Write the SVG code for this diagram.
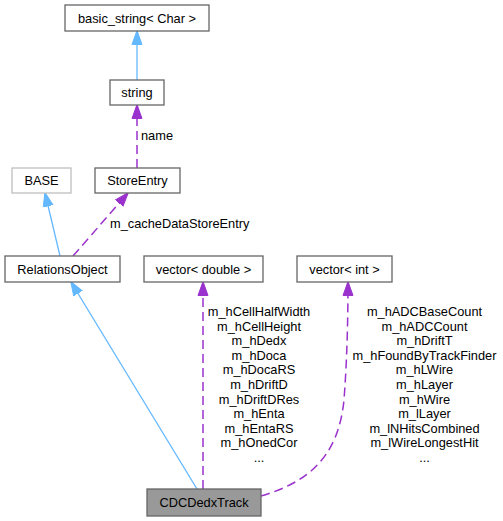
<svg xmlns="http://www.w3.org/2000/svg" width="503" height="521" viewBox="0 0 503 521">
<style>
text{font-family:"Liberation Sans",Arial,Helvetica,sans-serif;font-size:12.8px;fill:#000}
.c{text-anchor:middle}
.box{fill:#fff;stroke:#666;stroke-width:1.3}
.gray{fill:#fff;stroke:#bfbfbf;stroke-width:1.3}
.cur{fill:#999;stroke:#666;stroke-width:1.3}
.inh{fill:none;stroke:#63b8ff;stroke-width:1.3}
.use{fill:none;stroke:#9a32cd;stroke-width:1.5;stroke-dasharray:9,5}
</style>
<defs>
<marker id="ab" markerWidth="14" markerHeight="12" viewBox="0 0 14 12" refX="13.5" refY="6" orient="auto" markerUnits="userSpaceOnUse"><path d="M0,1 L14,6 L0,11 Z" fill="#63b8ff" stroke="#63b8ff"/></marker>
<marker id="ap" markerWidth="14" markerHeight="12" viewBox="0 0 14 12" refX="13.5" refY="6" orient="auto" markerUnits="userSpaceOnUse"><path d="M0,1 L14,6 L0,11 Z" fill="#9a32cd" stroke="#9a32cd"/></marker>
</defs>
<g id="edges">
<path class="inh" d="M137,80 L137,31" marker-end="url(#ab)"/>
<path class="use" d="M137,168 L137,105" marker-end="url(#ap)"/>
<text x="141" y="140">name</text>
<path class="inh" d="M60,256 L45,193" marker-end="url(#ab)"/>
<path class="use" d="M73,256 L128,193" marker-end="url(#ap)"/>
<text x="110" y="228">m_cacheDataStoreEntry</text>
<path class="inh" d="M197,489 L71,282" marker-end="url(#ab)"/>
<path class="use" d="M203,489 L203,282" marker-end="url(#ap)"/>
<path class="use" d="M261,496 C305,483 338,460 344,400 C347,360 348,320 348,282" marker-end="url(#ap)"/>
<g class="c">
<text x="259" y="316">m_hCellHalfWidth</text>
<text x="259" y="330.6">m_hCellHeight</text>
<text x="259" y="345.2">m_hDedx</text>
<text x="259" y="359.8">m_hDoca</text>
<text x="259" y="374.4">m_hDocaRS</text>
<text x="259" y="389">m_hDriftD</text>
<text x="259" y="403.6">m_hDriftDRes</text>
<text x="259" y="418.2">m_hEnta</text>
<text x="259" y="432.8">m_hEntaRS</text>
<text x="259" y="447.4">m_hOnedCor</text>
<text x="259" y="462">...</text>
<text x="424.5" y="316">m_hADCBaseCount</text>
<text x="424.5" y="330.6">m_hADCCount</text>
<text x="424.5" y="345.2">m_hDriftT</text>
<text x="424.5" y="359.8">m_hFoundByTrackFinder</text>
<text x="424.5" y="374.4">m_hLWire</text>
<text x="424.5" y="389">m_hLayer</text>
<text x="424.5" y="403.6">m_hWire</text>
<text x="424.5" y="418.2">m_lLayer</text>
<text x="424.5" y="432.8">m_lNHitsCombined</text>
<text x="424.5" y="447.4">m_lWireLongestHit</text>
<text x="424.5" y="462">...</text>
</g>
</g>
<g id="basic_string"><rect class="box" x="65" y="5" width="144" height="26"/><text class="c" x="137" y="22.5">basic_string&lt; Char &gt;</text></g>
<g id="string"><rect class="box" x="110" y="80" width="54" height="25"/><text class="c" x="137" y="97">string</text></g>
<g id="BASE"><rect class="gray" x="12" y="168" width="59" height="25"/><text class="c" x="41.5" y="185">BASE</text></g>
<g id="StoreEntry"><rect class="box" x="95" y="168" width="85" height="25"/><text class="c" x="137.5" y="185">StoreEntry</text></g>
<g id="RelationsObject"><rect class="box" x="5" y="256" width="115" height="26"/><text class="c" x="62.5" y="273.5">RelationsObject</text></g>
<g id="vector_double"><rect class="box" x="144" y="256" width="119" height="26"/><text class="c" x="203.5" y="273.5">vector&lt; double &gt;</text></g>
<g id="vector_int"><rect class="box" x="297" y="256" width="95" height="26"/><text class="c" x="344.5" y="273.5">vector&lt; int &gt;</text></g>
<g id="CDCDedxTrack"><rect class="cur" x="147" y="489" width="114" height="27"/><text class="c" x="204" y="507">CDCDedxTrack</text></g>
</svg>
